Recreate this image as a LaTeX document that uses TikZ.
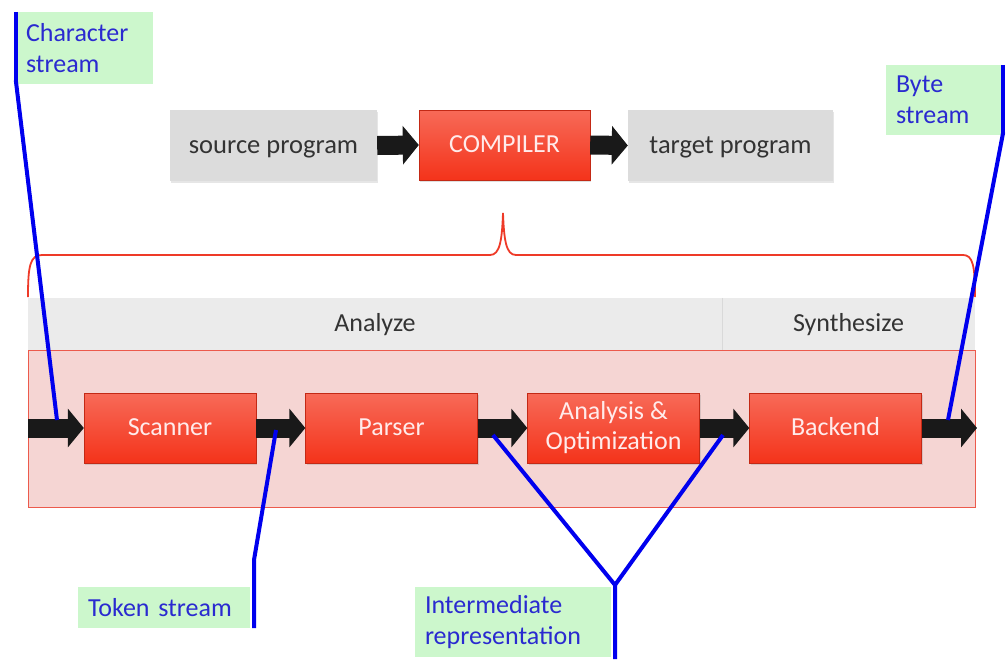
\documentclass[tikz,border=0pt]{standalone}
\usepackage{fontspec}
\setmainfont{Carlito}
\usetikzlibrary{arrows.meta,shadows}
\definecolor{boxred}{HTML}{F4331A}
\definecolor{boxredtop}{HTML}{F76A58}
\definecolor{boxgray}{HTML}{DCDCDC}
\definecolor{bandgray}{HTML}{EBEBEB}
\definecolor{pinkfill}{HTML}{F5D5D3}
\definecolor{pinkline}{HTML}{EC5A4C}
\definecolor{labelgreen}{HTML}{CCF7CC}
\definecolor{labeltext}{HTML}{2A2AD0}
\definecolor{lineblue}{HTML}{0000EE}
\definecolor{bracered}{HTML}{EE3A28}
\tikzset{
  oneline/.style={text height=15pt, text depth=0pt},
  redbox/.style={rectangle, top color=boxredtop, bottom color=boxred, draw=boxred!80!black, line width=0.4pt,
    minimum width=172pt, minimum height=70pt, inner sep=0pt, text=white!92!red,
    font=\fontsize{26}{30}\selectfont, align=center, drop shadow={opacity=0.25,shadow xshift=1pt,shadow yshift=-2pt}},
  graybox/.style={rectangle, fill=boxgray, minimum height=71pt, inner sep=0pt, text=black!80,
    font=\fontsize{26.5}{31}\selectfont, oneline, drop shadow={opacity=0.2,shadow xshift=1pt,shadow yshift=-2pt}},
  band/.style={rectangle, fill=bandgray, minimum height=52pt, inner sep=0pt, text=black!80,
    font=\fontsize{26}{31}\selectfont, oneline},
  label/.style={rectangle, fill=labelgreen, inner sep=0pt, text=labeltext,
    font=\fontsize{26}{31}\selectfont, align=left},
  bigarrow/.style={line width=19pt, black!90, -{Triangle[length=16pt,width=38pt]}, shorten >=0pt},
  blueline/.style={lineblue, line width=4pt, line join=round},
  bluebar/.style={lineblue, line width=4.5pt},
}
\begin{document}
\begin{tikzpicture}[x=1pt,y=-1pt]
\useasboundingbox (0,0) rectangle (1007,659);
% top row
\node[graybox, minimum width=207pt] (src) at (273.5,145.5) {source program};
\node[redbox, oneline, minimum width=171pt, minimum height=70pt] (comp) at (504.5,145) {COMPILER};
\node[graybox, minimum width=205pt] (tgt) at (730.5,145.5) {target program};
\draw[bigarrow] (src.east) -- (comp.west);
\draw[bigarrow] (comp.east) -- (tgt.west);
% brace
\draw[bracered, line width=1.8pt] (28,297) .. controls (28,266) and (30,255) .. (42,255) -- (490,255)
  .. controls (500,255) and (502,240) .. (503,213) .. controls (504,240) and (506,255) .. (516,255)
  -- (963,255) .. controls (973,255) and (975,266) .. (975,297);
% bands
\node[band, minimum width=694pt] (analyze) at (375,324) {Analyze};
\node[band, minimum width=253pt] (synth) at (848.5,324) {Synthesize};
\draw[black!15, line width=1.2pt] (analyze.north east) -- (analyze.south east);
% pink area
\node[rectangle, fill=pinkfill, draw=pinkline, line width=0.8pt, minimum width=947pt, minimum height=157pt, inner sep=0pt] (area) at (501.5,428.5) {};
% pipeline boxes
\node[redbox, oneline] (scan) at (170,428) {Scanner};
\node[redbox, oneline] (parse) at (391.5,428) {Parser};
\node[redbox] (opt) at (613.5,428) {Analysis \&\\Optimization};
\node[redbox, oneline] (back) at (835.5,428) {Backend};
\coordinate (inleft) at (28,428);
\coordinate (outright) at (977,428);
\draw[bigarrow] (inleft) -- (scan.west);
\draw[bigarrow] (scan.east) -- (parse.west);
\draw[bigarrow] (parse.east) -- (opt.west);
\draw[bigarrow] (opt.east) -- (back.west);
\draw[bigarrow] (back.east) -- (outright);
% labels
\node[label, minimum width=137pt, minimum height=72pt, text width=117pt] (cs) at (84.5,48) {Character\\stream};
\draw[bluebar] (cs.north west) -- (cs.south west);
\node[label, minimum width=117pt, minimum height=70pt, text width=97pt] (bs) at (944.5,100) {Byte\\stream};
\draw[bluebar] (bs.north east) -- (bs.south east);
\node[label, minimum width=172pt, minimum height=41pt, text width=152pt] (ts) at (164,607.5) {Token stream};
\node[label, minimum width=196pt, minimum height=70pt, text width=176pt] (ir) at (513,622) {Intermediate\\representation};
% blue connectors
\coordinate (csend) at (57,420);
\draw[blueline] ([yshift=4pt]cs.south west) -- (csend);
\coordinate (bsend) at (948,420);
\draw[blueline] ([yshift=3pt]bs.south east) -- (bsend);
\coordinate (tsjoint) at (254,560);
\coordinate (tsend) at (276,430);
\draw[blueline] ([xshift=4pt]ts.south east) -- ([xshift=4pt]ts.north east) -- (tsjoint) -- (tsend);
\coordinate (irjoint) at (615,585);
\coordinate (irbot) at (615,659);
\coordinate (irl) at (493,435);
\coordinate (irr) at (723,435);
\draw[blueline] (irbot) -- (irjoint) -- (irl);
\draw[blueline] (irjoint) -- (irr);
\end{tikzpicture}
\end{document}
